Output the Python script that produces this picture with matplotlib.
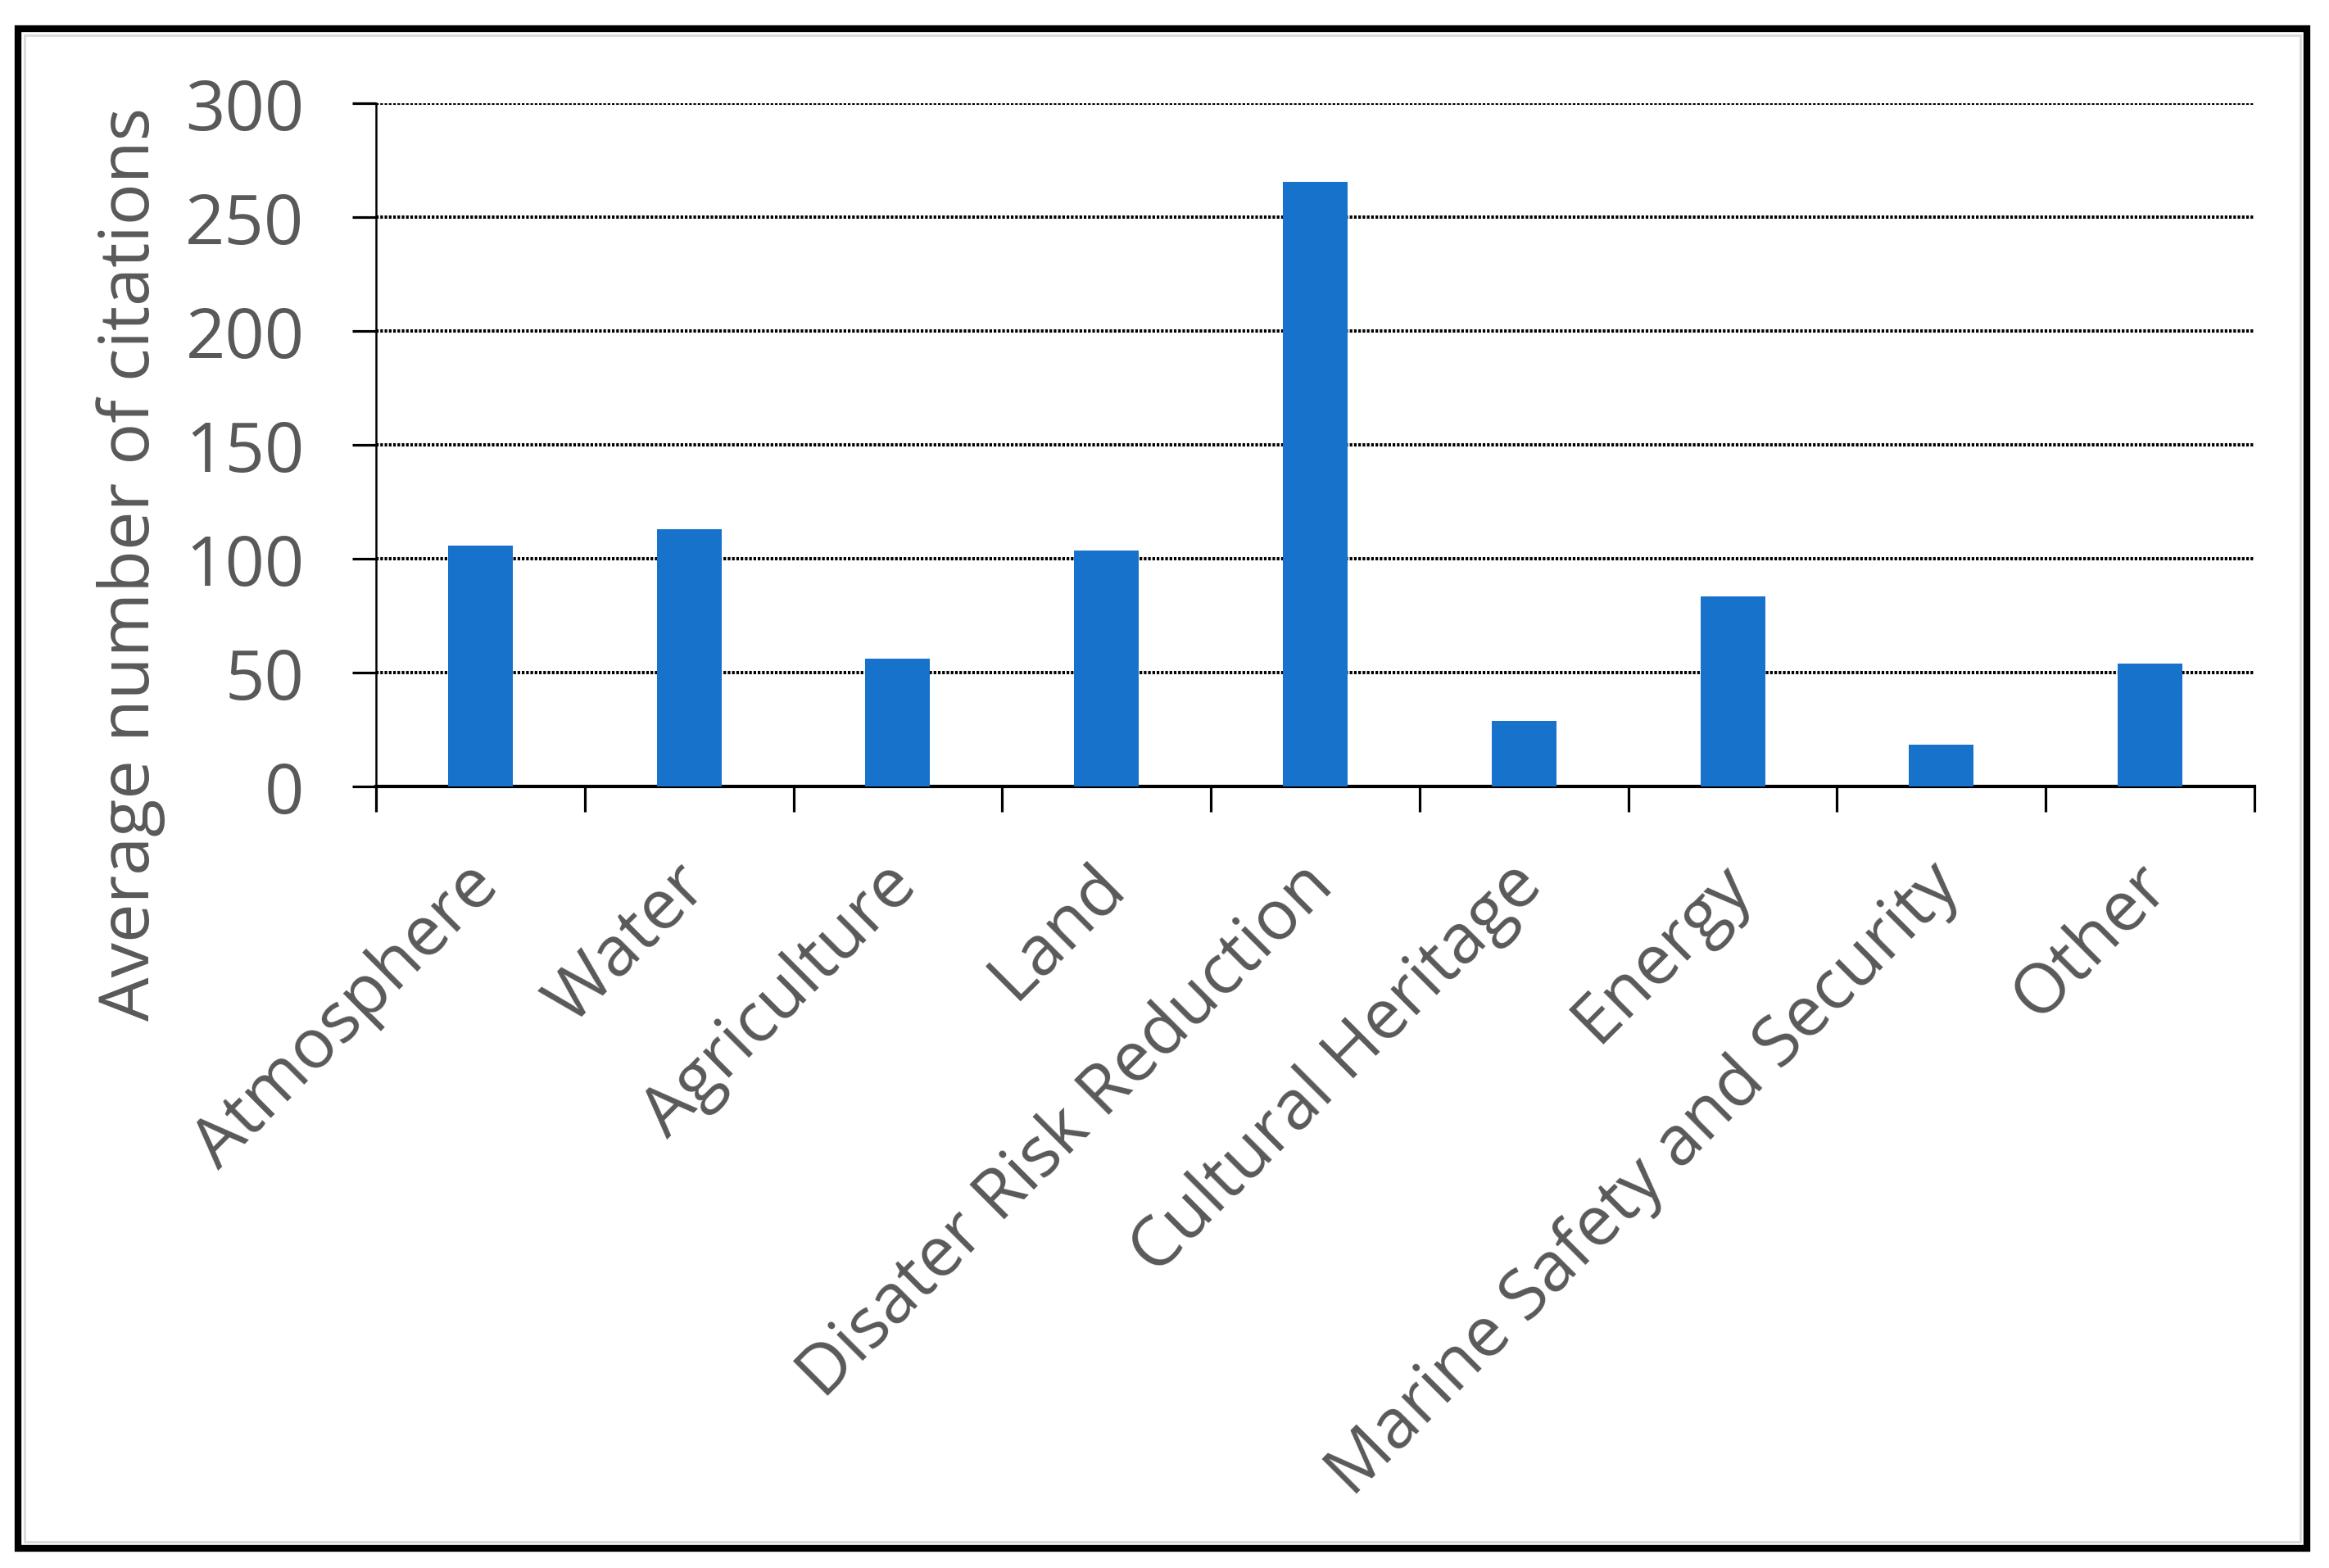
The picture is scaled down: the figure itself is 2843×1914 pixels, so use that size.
import numpy as np
import matplotlib.pyplot as plt
from matplotlib.patches import Rectangle
from matplotlib.transforms import ScaledTranslation

categories = ["Atmosphere", "Water", "Agriculture", "Land",
              "Disater Risk Reduction", "Cultural Heritage", "Energy",
              "Marine Safety and Security", "Other"]
citations = [105.7, 112.8, 56.1, 103.7, 265.4, 28.7, 83.5, 18.3, 54.1]
y_ticks = [0, 50, 100, 150, 200, 250, 300]

text_grey = "#595959"
bar_blue = "#1672CB"

plt.rcParams["font.family"] = ["Open Sans", "DejaVu Sans"]

W, H = 2843, 1915
fig = plt.figure(figsize=(W / 100, H / 100), dpi=100)
ax = fig.add_axes([459 / W, 1 - 961 / H, (2752 - 459) / W, (961 - 127) / H])

x = np.arange(len(categories))
ax.bar(x, citations, width=0.31, color=bar_blue, zorder=3)

ax.set_xlim(-0.5, len(categories) - 0.5)
ax.set_ylim(0, 300)
ax.set_yticks(y_ticks)
ax.set_yticklabels([str(v) for v in y_ticks])
for v in y_ticks[1:]:
    ax.axhline(v, color="black", lw=2.9, ls=(0, (0.8, 0.5)),
               dash_capstyle="butt", zorder=1)

ax.set_xticks(x)
ax.set_xticklabels(categories, rotation=45, ha="right", va="top",
                   rotation_mode="anchor")
ax.set_xticks(np.arange(len(categories) + 1) - 0.5, minor=True)
ax.tick_params(axis="x", which="major", length=0, pad=56,
               labelsize=61, labelcolor=text_grey)
ax.tick_params(axis="x", which="minor", length=22, width=2.3,
               direction="out", color="black")
ax.tick_params(axis="y", length=21, width=2.3, direction="out",
               pad=42, labelsize=61, labelcolor=text_grey)

# nudge the rotated category labels a little to the left
shift = ScaledTranslation(-20 / 100, 0, fig.dpi_scale_trans)
for lab in ax.get_xticklabels():
    lab.set_transform(lab.get_transform() + shift)

for s in ["top", "right"]:
    ax.spines[s].set_visible(False)
ax.spines["left"].set_linewidth(1.8)
ax.spines["bottom"].set_linewidth(3)

ax.set_ylabel("Average number of citations", fontsize=61, color=text_grey)
ax.yaxis.set_label_coords(-0.112, 0.327)

# outer frame around the whole chart
fig.patches.append(Rectangle((22 / W, 1 - 1891 / H), (2816 - 22) / W,
                             (1891 - 36) / H, transform=fig.transFigure,
                             fill=False, ec="black", lw=6))
fig.patches.append(Rectangle((30 / W, 1 - 1883 / H), (2808 - 30) / W,
                             (1883 - 44) / H, transform=fig.transFigure,
                             fill=False, ec="#d9d9d9", lw=2))

fig.savefig("out.png", dpi=100)
